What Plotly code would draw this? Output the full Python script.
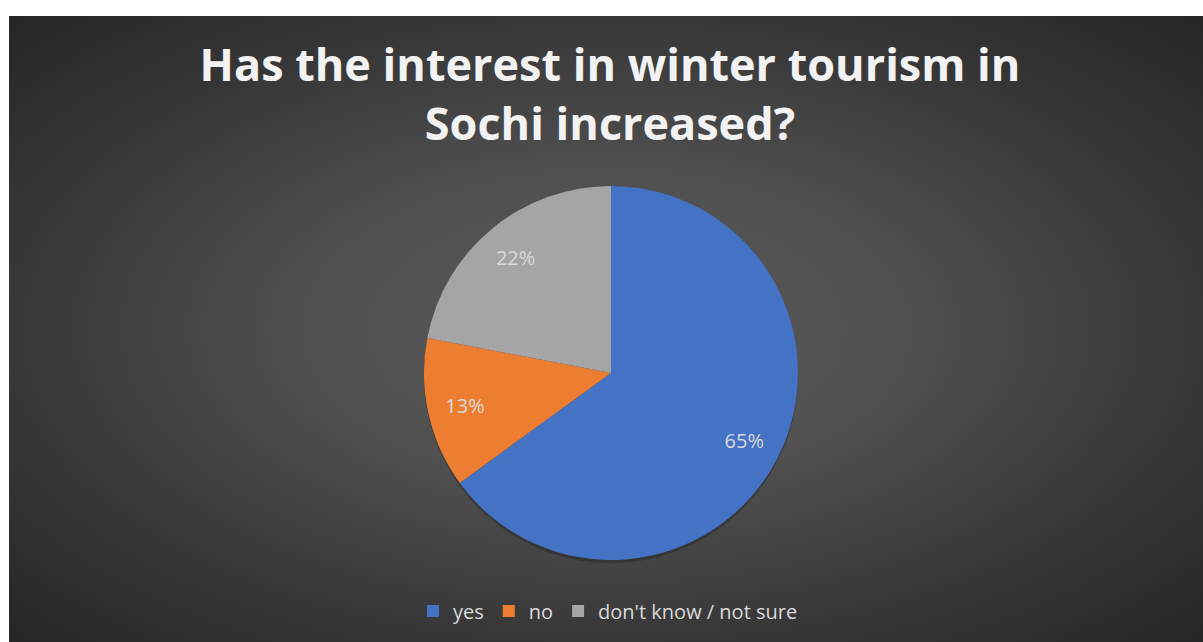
import plotly.graph_objects as go

# Survey answers (percent of respondents)
labels = ["yes", "no", "don't know / not sure"]
values = [65, 13, 22]
colors = ["#4472C4", "#ED7D31", "#A5A5A5"]

title_text = "Has the interest in winter tourism in<br>Sochi increased?"

W, H = 1203, 642
# dark panel bounds in pixels (left, top, right, bottom)
PX0, PY0, PX1, PY1 = 9, 16, 1203, 642

# pie placement in pixels
CX, CY, R = 611, 373, 187

def pie_domain(cx, cy, r):
    return dict(
        x=[(cx - r) / W, (cx + r) / W],
        y=[(H - cy - r) / H, (H - cy + r) / H],
    )

fig = go.Figure()

# radial background gradient, stretched so the panel corners reach the outer stop
mx, my = (PX0 + PX1) / 2, (PY0 + PY1) / 2
hw, hh = (PX1 - PX0) / 2 * 1.414, (PY1 - PY0) / 2 * 1.414
fig.add_trace(go.Scatter(
    x=[mx - hw, mx + hw, mx + hw, mx - hw, mx - hw],
    y=[my - hh, my - hh, my + hh, my + hh, my - hh],
    mode="none",
    fill="toself",
    fillgradient=dict(
        type="radial",
        colorscale=[[0, "#5a5a5a"], [0.35, "#505050"], [0.7, "#373737"], [1, "#262626"]],
    ),
    hoverinfo="skip",
    showlegend=False,
))

# soft shadow under the pie
fig.add_trace(go.Pie(
    values=[1],
    marker=dict(colors=["rgba(0,0,0,0.22)"], line=dict(width=0)),
    domain=pie_domain(CX, CY + 3, R),
    textinfo="none",
    hoverinfo="skip",
    showlegend=False,
    sort=False,
))

# the slices
fig.add_trace(go.Pie(
    labels=labels,
    values=values,
    marker=dict(colors=colors, line=dict(width=0)),
    domain=pie_domain(CX, CY, R),
    sort=False,
    direction="clockwise",
    rotation=0,
    textinfo="none",
    hoverinfo="label+percent",
))

# percentage labels, set in an outer ring so they sit near the rim
fig.add_trace(go.Pie(
    labels=labels,
    values=values,
    marker=dict(colors=["rgba(0,0,0,0)"] * len(values), line=dict(width=0)),
    domain=pie_domain(CX, CY, R),
    hole=0.6,
    sort=False,
    direction="clockwise",
    rotation=0,
    textinfo="percent",
    texttemplate="%{percent:.0%}",
    textposition="inside",
    insidetextorientation="horizontal",
    textfont=dict(family="Open Sans", size=20, color="#d9d9d9"),
    hoverinfo="skip",
    showlegend=False,
))

fig.update_layout(
    width=W,
    height=H,
    margin=dict(l=0, r=0, t=0, b=0),
    paper_bgcolor="white",
    plot_bgcolor="#262626",
    title=dict(
        text=title_text,
        x=610 / W,
        xanchor="center",
        y=1 - 81 / H,
        yanchor="top",
        font=dict(family="Open Sans", size=45, color="#f2f2f2", weight="bold"),
    ),
    xaxis=dict(
        domain=[PX0 / W, PX1 / W],
        range=[PX0, PX1],
        visible=False,
        fixedrange=True,
    ),
    yaxis=dict(
        domain=[(H - PY1) / H, (H - PY0) / H],
        range=[PY1, PY0],
        visible=False,
        fixedrange=True,
    ),
    legend=dict(
        orientation="h",
        x=608 / W,
        xanchor="center",
        y=1 - 611 / H,
        yanchor="middle",
        bgcolor="rgba(0,0,0,0)",
        font=dict(family="Open Sans", size=20, color="#d9d9d9"),
        traceorder="normal",
    ),
    showlegend=True,
)

fig.write_html("out.html")
